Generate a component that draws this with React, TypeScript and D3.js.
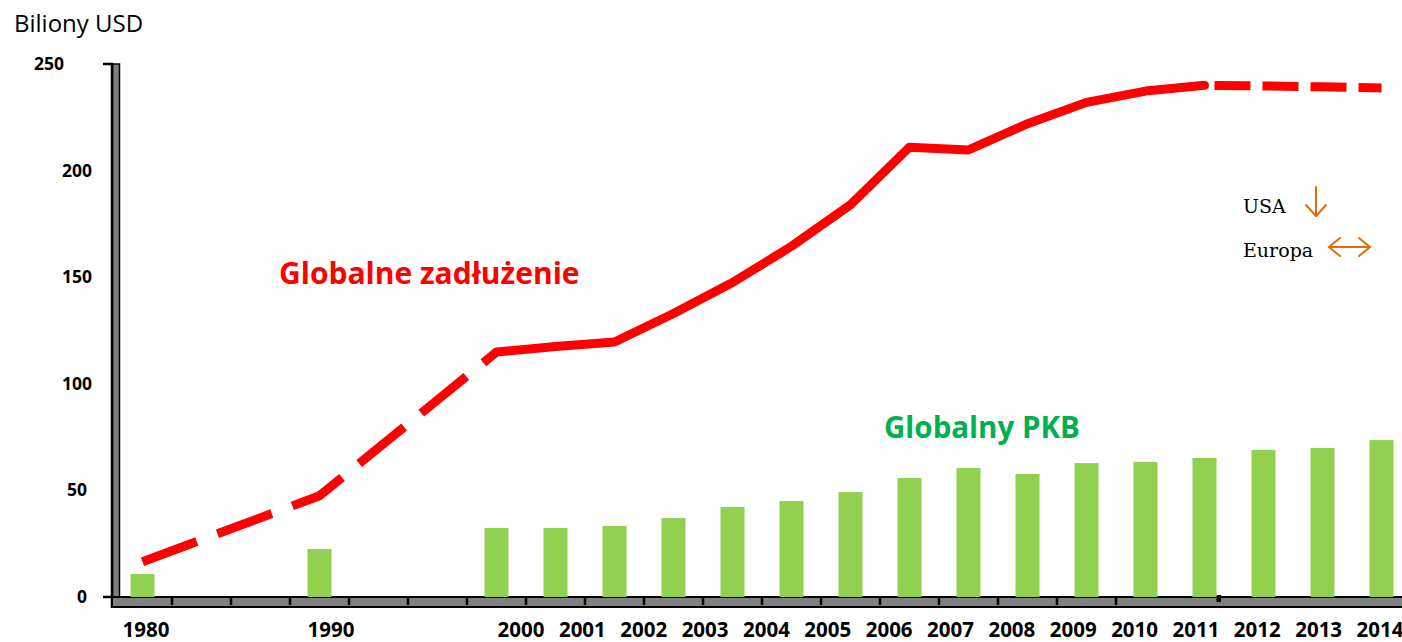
import React from 'react';
import * as d3 from 'd3';

// category slots of the underlying chart (gaps between 1980, 1990 and 2000)
const slots = [
  '1980', 'gapA', 'gapB', '1990', 'gapC', 'gapD',
  '2000', '2001', '2002', '2003', '2004', '2005', '2006', '2007',
  '2008', '2009', '2010', '2011', '2012', '2013', '2014', '2015',
];

// data years
const years = [
  '1980', '1990', '2000', '2001', '2002', '2003', '2004', '2005', '2006',
  '2007', '2008', '2009', '2010', '2011', '2012', '2013', '2014', '2015',
];

// Globalny PKB (bars)
const gdpValues = [
  10.8, 22.5, 32.4, 32.4, 33.3, 37, 42.2, 45, 49.2,
  55.8, 60.5, 57.7, 62.8, 63.3, 65.2, 69, 69.9, 73.6,
];

// Globalne zadluzenie (line)
const debtValues = [
  16.5, 47.5, 114.9, 117.5, 119.6, 133, 147.5, 164.5, 184,
  211, 209.7, 222, 232, 237.3, 240, 239.7, 239.3, 238.8,
];

// tick labels under the floor
const labelYears = [
  1980, 1990, 2000, 2001, 2002, 2003, 2004, 2005, 2006, 2007,
  2008, 2009, 2010, 2011, 2012, 2013, 2014,
];
const yTicks = [0, 50, 100, 150, 200, 250];

const W = 1402;
const H = 642;
const RED = '#FF0000';
const BAR = '#92D050';
const GREY = '#808080';
const ORANGE = '#E36C09';
const FONT = '"Open Sans", Lato, sans-serif';

export default function App() {
  const x = d3.scaleBand<string>().domain(slots).range([113, 113 + 59 * slots.length]);
  const y = d3.scaleLinear().domain([0, 250]).range([597, 64]);
  // label row is offset from the bars in the original slide
  const labelX = d3.scaleLinear().domain([1980, 1990, 2000, 2014]).range([146, 331, 521, 1380]);

  const cx = (s: string) => (x(s) as number) + x.bandwidth() / 2;
  const pts: [number, number][] = years.map((yr, i) => [cx(yr), y(debtValues[i])]);
  const line = d3.line();

  const iSolid = years.indexOf('2000');
  const iEnd = years.indexOf('2012');
  const floorTop = y(0);

  const yLabelRight = (v: number) => (v === 250 ? 64 : v <= 50 ? 87 : 92);

  return (
    <svg width={W} height={H} style={{ position: 'absolute', left: 0, top: 0, display: 'block' }}>
      <rect width={W} height={H} fill="#fff" />

      <text x={14} y={32} fontFamily={FONT} fontSize={24} fill="#000">Biliony USD</text>

      {/* left wall */}
      <rect x={112.5} y={64} width={7} height={floorTop + 10 - 64} fill={GREY} stroke="#000" strokeWidth={1.5} />
      <line x1={112} x2={112} y1={63} y2={608} stroke="#000" strokeWidth={2.5} />

      {/* floor */}
      <rect x={112} y={floorTop} width={W} height={10} fill={GREY} stroke="#000" strokeWidth={2} />
      {slots.slice(1, 18).map(s => (
        <line key={s} x1={x(s)} x2={x(s)} y1={floorTop} y2={floorTop + 8} stroke="#000" strokeWidth={2.5} />
      ))}
      <rect x={cx('2012') + 12} y={floorTop - 2} width={4.5} height={7} fill="#000" />

      {/* y axis ticks + labels */}
      {yTicks.map(v => (
        <g key={v}>
          {(v === 0 || v === 250) && (
            <line x1={103} x2={113} y1={y(v)} y2={y(v)} stroke="#000" strokeWidth={2.5} />
          )}
          <text x={yLabelRight(v)} y={y(v) + 6} textAnchor="end" fontFamily={FONT}
            fontWeight={700} fontSize={17.5} fill="#000">{v}</text>
        </g>
      ))}

      {/* bars */}
      {years.map((yr, i) => (
        <rect key={yr} x={cx(yr) - 12} y={y(gdpValues[i])} width={24}
          height={y(0) - y(gdpValues[i])} fill={BAR} />
      ))}

      {/* debt line */}
      <path d={line(pts.slice(0, iSolid + 1)) || ''} fill="none" stroke={RED} strokeWidth={9}
        strokeDasharray="58 22" strokeLinejoin="round" />
      <path d={line(pts.slice(iSolid, iEnd + 1)) || ''} fill="none" stroke={RED} strokeWidth={9}
        strokeLinecap="round" strokeLinejoin="round" />
      <path d={line(pts.slice(iEnd)) || ''} fill="none" stroke={RED} strokeWidth={9}
        strokeDasharray="36 12" strokeDashoffset={38} />

      {/* x labels */}
      {labelYears.map(yr => (
        <text key={yr} x={labelX(yr)} y={637} textAnchor="middle" fontFamily={FONT}
          fontWeight={700} fontSize={20.5} fill="#000">{yr}</text>
      ))}

      <text x={279} y={284} fontFamily={FONT} fontWeight={700} fontSize={30} fill={RED}>Globalne zadłużenie</text>
      <text x={884} y={438} fontFamily={FONT} fontWeight={700} fontSize={29.5} fill="#00B050">Globalny PKB</text>

      {/* annotation */}
      <text x={1243} y={213} fontFamily='"DejaVu Serif", serif' fontSize={19} fill="#000">USA</text>
      <text x={1243} y={257} fontFamily='"DejaVu Serif", serif' fontSize={19} fill="#000">Europa</text>
      <g stroke={ORANGE} strokeWidth={2} fill="none" strokeLinecap="round">
        <line x1={1316} x2={1316} y1={187} y2={216} />
        <polyline points="1306,205 1316,216 1326,205" />
        <line x1={1329} x2={1370} y1={247} y2={247} />
        <polyline points="1340,238 1329,247 1340,256" />
        <polyline points="1359,238 1370,247 1359,256" />
      </g>
    </svg>
  );
}
